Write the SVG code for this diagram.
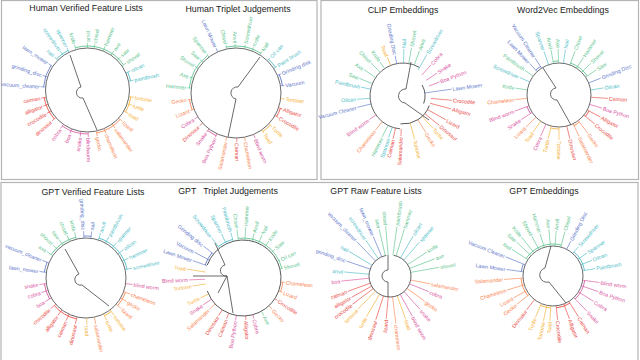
<svg xmlns="http://www.w3.org/2000/svg" width="640" height="360" viewBox="0 0 640 360">
<style>
text{font-family:"Liberation Sans",Arial,sans-serif;font-size:5.3px;stroke:none;dominant-baseline:central}
.ttl{font-size:8.8px;fill:#222;text-anchor:middle;dominant-baseline:auto}
.l{text-anchor:end}
path,circle{fill:none}
.lf path{stroke-width:.6}
.ring,.root{stroke:#444;stroke-width:.8;fill:none}
.arc{stroke-width:.8;fill:none}
.frame{fill:none;stroke:#b4b4b4;stroke-width:1.2}
.g{stroke:#5cc48e;fill:#5cc48e}
.t{stroke:#4cbcc6;fill:#4cbcc6}
.b{stroke:#5d75c9;fill:#5d75c9}
.y{stroke:#f5b034;fill:#f5b034}
.o{stroke:#f8844f;fill:#f8844f}
.r{stroke:#e9473f;fill:#e9473f}
.p{stroke:#d8529e;fill:#d8529e}
circle.arc{fill:none}
</style>
<rect class="frame" x="1.5" y="0.5" width="315.5" height="179"/>
<rect class="frame" x="321" y="0.5" width="317.5" height="179"/>
<rect class="frame" x="1" y="182.5" width="637" height="180"/>
<g id="titles">
<text class="ttl" x="86" y="10.5">Human Verified Feature Lists</text>
<text class="ttl" x="238" y="12">Human Triplet Judgements</text>
<text class="ttl" x="403" y="13">CLIP Embeddings</text>
<text class="ttl" x="563" y="13">Word2Vec Embeddings</text>
<text class="ttl" x="93" y="195">GPT Verified Feature Lists</text>
<text class="ttl" x="228" y="194" xml:space="preserve">GPT   Triplet Judgements</text>
<text class="ttl" x="376" y="194">GPT Raw Feature Lists</text>
<text class="ttl" x="544" y="194">GPT Embeddings</text>
</g>

<g id="human-verified" transform="translate(87.5,90)">
<g class="connectors"><circle class="ring" r="42"/><path class="root" d="M-17.5,-35 L-6.5,-3 A5.5,5.5 0 0 0 -4.5,8 L9.5,40"/>
<circle class="arc b" r="44" pathLength="360" stroke-dasharray="30 330" transform="rotate(184)"/>
<circle class="arc t" r="44" pathLength="360" stroke-dasharray="19 341" transform="rotate(225)"/>
<circle class="arc g" r="44" pathLength="360" stroke-dasharray="71 289" transform="rotate(254)"/>
<circle class="arc t" r="44" pathLength="360" stroke-dasharray="12 348" transform="rotate(336)"/>
<circle class="arc y" r="44" pathLength="360" stroke-dasharray="21 339" transform="rotate(9)"/>
<circle class="arc o" r="44" pathLength="360" stroke-dasharray="36 324" transform="rotate(42)"/>
<circle class="arc p" r="44" pathLength="360" stroke-dasharray="36 324" transform="rotate(89)"/>
<circle class="arc r" r="44" pathLength="360" stroke-dasharray="31 329" transform="rotate(139)"/>
</g>
<g class="lf">
<g class="b" transform="rotate(184)"><path d="M42 0H47"/><text class="l" transform="rotate(180)" x="-48">vacuum_cleaner</text></g>
<g class="b" transform="rotate(198)"><path d="M42 0H47"/><text class="l" transform="rotate(180)" x="-48">grinding_disc</text></g>
<g class="b" transform="rotate(214)"><path d="M42 0H47"/><text class="l" transform="rotate(180)" x="-48">lawn_mower</text></g>
<g class="t" transform="rotate(225)"><path d="M42 0H47"/><text class="l" transform="rotate(180)" x="-48">nail</text></g>
<g class="t" transform="rotate(235)"><path d="M42 0H47"/><text class="l" transform="rotate(180)" x="-48">screwdriver</text></g>
<g class="t" transform="rotate(244)"><path d="M42 0H47"/><text class="l" transform="rotate(180)" x="-48">spanner</text></g>
<g class="g" transform="rotate(254)"><path d="M42 0H47"/><text class="l" transform="rotate(180)" x="-48">knife</text></g>
<g class="g" transform="rotate(270)"><path d="M42 0H47"/><text x="48">anvil</text></g>
<g class="g" transform="rotate(279)"><path d="M42 0H47"/><text x="48">chisel</text></g>
<g class="g" transform="rotate(292)"><path d="M42 0H47"/><text x="48">hammer</text></g>
<g class="g" transform="rotate(304)"><path d="M42 0H47"/><text x="48">axe</text></g>
<g class="g" transform="rotate(315)"><path d="M42 0H47"/><text x="48">saw</text></g>
<g class="g" transform="rotate(325)"><path d="M42 0H47"/><text x="48">shovel</text></g>
<g class="t" transform="rotate(336)"><path d="M42 0H47"/><text x="48">oilcan</text></g>
<g class="t" transform="rotate(348)"><path d="M42 0H47"/><text x="48">paintbrush</text></g>
<g class="y" transform="rotate(9)"><path d="M42 0H47"/><text x="48">tortoise</text></g>
<g class="y" transform="rotate(19)"><path d="M42 0H47"/><text x="48">turtle</text></g>
<g class="y" transform="rotate(30)"><path d="M42 0H47"/><text x="48">toad</text></g>
<g class="o" transform="rotate(42)"><path d="M42 0H47"/><text x="48">lizard</text></g>
<g class="o" transform="rotate(54)"><path d="M42 0H47"/><text x="48">salamander</text></g>
<g class="o" transform="rotate(67)"><path d="M42 0H47"/><text x="48">chameleon</text></g>
<g class="o" transform="rotate(78)"><path d="M42 0H47"/><text x="48">gecko</text></g>
<g class="p" transform="rotate(89)"><path d="M42 0H47"/><text x="48">blindworm</text></g>
<g class="p" transform="rotate(99)"><path d="M42 0H47"/><text class="l" transform="rotate(180)" x="-48">snake</text></g>
<g class="p" transform="rotate(112)"><path d="M42 0H47"/><text class="l" transform="rotate(180)" x="-48">boa</text></g>
<g class="p" transform="rotate(125)"><path d="M42 0H47"/><text class="l" transform="rotate(180)" x="-48">cobra</text></g>
<g class="r" transform="rotate(139)"><path d="M42 0H47"/><text class="l" transform="rotate(180)" x="-48">dinosaur</text></g>
<g class="r" transform="rotate(150)"><path d="M42 0H47"/><text class="l" transform="rotate(180)" x="-48">crocodile</text></g>
<g class="r" transform="rotate(160)"><path d="M42 0H47"/><text class="l" transform="rotate(180)" x="-48">alligator</text></g>
<g class="r" transform="rotate(170)"><path d="M42 0H47"/><text class="l" transform="rotate(180)" x="-48">caiman</text></g>
</g></g>

<g id="human-triplet" transform="translate(236,93)">
<g class="connectors"><circle class="ring" r="45"/><path class="root" d="M24,-36 L2,-6 A6,6 0 0 0 0,6 L-8,44"/>
<circle class="arc g" r="47" pathLength="360" stroke-dasharray="47 313" transform="rotate(186)"/>
<circle class="arc g" r="47" pathLength="360" stroke-dasharray="44 316" transform="rotate(258)"/>
<circle class="arc t" r="47" pathLength="360" stroke-dasharray="13 347" transform="rotate(314)"/>
<circle class="arc b" r="47" pathLength="360" stroke-dasharray="14 346" transform="rotate(337)"/>
<circle class="arc r" r="47" pathLength="360" stroke-dasharray="11 349" transform="rotate(19)"/>
<circle class="arc y" r="47" pathLength="360" stroke-dasharray="12 348" transform="rotate(43)"/>
<circle class="arc p" r="47" pathLength="360" stroke-dasharray="12 348" transform="rotate(115)"/>
<circle class="arc o" r="47" pathLength="360" stroke-dasharray="13 347" transform="rotate(159)"/>
</g>
<g class="lf">
<g class="g" transform="rotate(186)"><path d="M45 0H49"/><text class="l" transform="rotate(180)" x="-50">Hammer</text></g>
<g class="g" transform="rotate(199)"><path d="M45 0H49"/><text class="l" transform="rotate(180)" x="-50">Axe</text></g>
<g class="g" transform="rotate(213)"><path d="M45 0H49"/><text class="l" transform="rotate(180)" x="-50">Shovel</text></g>
<g class="g" transform="rotate(223)"><path d="M45 0H49"/><text class="l" transform="rotate(180)" x="-50">Saw</text></g>
<g class="g" transform="rotate(233)"><path d="M45 0H49"/><text class="l" transform="rotate(180)" x="-50">Spanner</text></g>
<g class="b" transform="rotate(246)"><path d="M45 0H49"/><text class="l" transform="rotate(180)" x="-50">Lawn Mower</text></g>
<g class="g" transform="rotate(258)"><path d="M45 0H49"/><text class="l" transform="rotate(180)" x="-50">Chisel</text></g>
<g class="g" transform="rotate(269)"><path d="M45 0H49"/><text class="l" transform="rotate(180)" x="-50">Anvil</text></g>
<g class="g" transform="rotate(281)"><path d="M45 0H49"/><text x="50">Screwdriver</text></g>
<g class="g" transform="rotate(291)"><path d="M45 0H49"/><text x="50">Knife</text></g>
<g class="g" transform="rotate(302)"><path d="M45 0H49"/><text x="50">Nail</text></g>
<g class="t" transform="rotate(314)"><path d="M45 0H49"/><text x="50">Oil can</text></g>
<g class="t" transform="rotate(327)"><path d="M45 0H49"/><text x="50">Paint brush</text></g>
<g class="b" transform="rotate(337)"><path d="M45 0H49"/><text x="50">Grinding disk</text></g>
<g class="b" transform="rotate(351)"><path d="M45 0H49"/><text x="50">Vacuum</text></g>
<g class="y" transform="rotate(7)"><path d="M45 0H49"/><text x="50">Tortoise</text></g>
<g class="r" transform="rotate(19)"><path d="M45 0H49"/><text x="50">Alligator</text></g>
<g class="r" transform="rotate(30)"><path d="M45 0H49"/><text x="50">Crocodile</text></g>
<g class="y" transform="rotate(43)"><path d="M45 0H49"/><text x="50">Turtle</text></g>
<g class="y" transform="rotate(55)"><path d="M45 0H49"/><text x="50">Toad</text></g>
<g class="p" transform="rotate(67)"><path d="M45 0H49"/><text x="50">Blind worm</text></g>
<g class="o" transform="rotate(79)"><path d="M45 0H49"/><text x="50">Chameleon</text></g>
<g class="r" transform="rotate(89)"><path d="M45 0H49"/><text x="50">Caiman</text></g>
<g class="o" transform="rotate(102)"><path d="M45 0H49"/><text class="l" transform="rotate(180)" x="-50">Salamander</text></g>
<g class="p" transform="rotate(115)"><path d="M45 0H49"/><text class="l" transform="rotate(180)" x="-50">Boa Python</text></g>
<g class="p" transform="rotate(127)"><path d="M45 0H49"/><text class="l" transform="rotate(180)" x="-50">Snake</text></g>
<g class="r" transform="rotate(138)"><path d="M45 0H49"/><text class="l" transform="rotate(180)" x="-50">Dinosaur</text></g>
<g class="p" transform="rotate(148)"><path d="M45 0H49"/><text class="l" transform="rotate(180)" x="-50">Cobra</text></g>
<g class="o" transform="rotate(159)"><path d="M45 0H49"/><text class="l" transform="rotate(180)" x="-50">Lizard</text></g>
<g class="o" transform="rotate(172)"><path d="M45 0H49"/><text class="l" transform="rotate(180)" x="-50">Gecko</text></g>
</g></g>

<g id="clip" transform="translate(403,96)">
<g class="connectors">
<circle class="ring" r="33" pathLength="360" stroke-dasharray="205 155" transform="rotate(95)"/>
<circle class="ring" r="22" pathLength="360" stroke-dasharray="50 310" transform="rotate(330)"/>
<circle class="ring" r="28" pathLength="360" stroke-dasharray="75 285" transform="rotate(20)"/>
<path class="root" d="M8,-34 L3,-7 A7,7 0 0 0 2,7 L26,24"/></g>
<g class="lf">
<g class="b" transform="rotate(352)"><path d="M22 0H49"/><text x="50">Lawn Mower</text></g>
<g class="r" transform="rotate(5)"><path d="M28 0H49"/><text x="50">Crocodile</text></g>
<g class="r" transform="rotate(15)"><path d="M28 0H50"/><text x="51">Alligator</text></g>
<g class="r" transform="rotate(29)"><path d="M28 0H49"/><text x="50">Lizard</text></g>
<g class="r" transform="rotate(39)"><path d="M28 0H47"/><text x="48">Dinosaur</text></g>
<g class="y" transform="rotate(47)"><path d="M28 0H44"/><text x="45">Turtle</text></g>
<g class="o" transform="rotate(58)"><path d="M28 0H43"/><text x="44">Gecko</text></g>
<g class="y" transform="rotate(75)"><path d="M28 0H45"/><text x="46">Tortoise</text></g>
<g class="r" transform="rotate(93)"><path d="M33 0H40"/><text class="l" transform="rotate(180)" x="-41">Salamander</text></g>
<g class="r" transform="rotate(103)"><path d="M33 0H44"/><text class="l" transform="rotate(180)" x="-45">Caiman</text></g>
<g class="t" transform="rotate(109)"><path d="M33 0H44"/><text class="l" transform="rotate(180)" x="-45">Spanner</text></g>
<g class="g" transform="rotate(117)"><path d="M33 0H46"/><text class="l" transform="rotate(180)" x="-47">Hammer</text></g>
<g class="o" transform="rotate(129)"><path d="M33 0H44"/><text class="l" transform="rotate(180)" x="-45">Chameleon</text></g>
<g class="p" transform="rotate(145)"><path d="M33 0H41"/><text class="l" transform="rotate(180)" x="-42">Blind worm</text></g>
<g class="b" transform="rotate(166)"><path d="M33 0H47"/><text class="l" transform="rotate(180)" x="-48">Vacuum Cleaner</text></g>
<g class="t" transform="rotate(176)"><path d="M33 0H46"/><text class="l" transform="rotate(180)" x="-47">Oilcan</text></g>
<g class="t" transform="rotate(192)"><path d="M33 0H43"/><text class="l" transform="rotate(180)" x="-44">Paintbrush</text></g>
<g class="g" transform="rotate(202)"><path d="M33 0H47"/><text class="l" transform="rotate(180)" x="-48">Saw</text></g>
<g class="g" transform="rotate(214)"><path d="M33 0H47"/><text class="l" transform="rotate(180)" x="-48">Axe</text></g>
<g class="g" transform="rotate(226)"><path d="M33 0H46"/><text class="l" transform="rotate(180)" x="-47">Chisel</text></g>
<g class="g" transform="rotate(236)"><path d="M33 0H41"/><text class="l" transform="rotate(180)" x="-42">Knife</text></g>
<g class="y" transform="rotate(248)"><path d="M33 0H42"/><text class="l" transform="rotate(180)" x="-43">Toad</text></g>
<g class="b" transform="rotate(259)"><path d="M33 0H41"/><text class="l" transform="rotate(180)" x="-42">Grinding Disc</text></g>
<g class="t" transform="rotate(271)"><path d="M33 0H47"/><text x="48">Nail</text></g>
<g class="g" transform="rotate(280)"><path d="M33 0H49"/><text x="50">Shovel</text></g>
<g class="g" transform="rotate(290)"><path d="M33 0H48"/><text x="49">Anvil</text></g>
<g class="t" transform="rotate(300)"><path d="M30 0H48"/><text x="49">Screwdriver</text></g>
<g class="p" transform="rotate(312)"><path d="M28 0H42"/><text x="43">Cobra</text></g>
<g class="p" transform="rotate(326)"><path d="M28 0H41"/><text x="42">Snake</text></g>
<g class="p" transform="rotate(339)"><path d="M28 0H39"/><text x="40">Boa Python</text></g>
</g></g>

<g id="word2vec" transform="translate(559,95)">
<g class="connectors"><circle class="ring" r="32"/><path class="root" d="M-16,-27 L-3,-7 A6,6 0 0 0 -2,5 L12,30"/>
<circle class="arc r" r="34" pathLength="360" stroke-dasharray="11 349" transform="rotate(28)"/>
<circle class="arc o" r="34" pathLength="360" stroke-dasharray="11 349" transform="rotate(53)"/>
<circle class="arc y" r="34" pathLength="360" stroke-dasharray="14 346" transform="rotate(90)"/>
<circle class="arc p" r="34" pathLength="360" stroke-dasharray="13 347" transform="rotate(147)"/>
<circle class="arc b" r="34" pathLength="360" stroke-dasharray="10 350" transform="rotate(227)"/>
<circle class="arc g" r="34" pathLength="360" stroke-dasharray="9 351" transform="rotate(260)"/>
<circle class="arc g" r="34" pathLength="360" stroke-dasharray="36 324" transform="rotate(290)"/>
</g>
<g class="lf">
<g class="r" transform="rotate(4)"><path d="M32 0H49"/><text x="50">Caiman</text></g>
<g class="p" transform="rotate(17)"><path d="M32 0H45"/><text x="46">Boa Python</text></g>
<g class="r" transform="rotate(28)"><path d="M32 0H47"/><text x="48">Alligator</text></g>
<g class="r" transform="rotate(39)"><path d="M32 0H46"/><text x="47">Crocodile</text></g>
<g class="o" transform="rotate(53)"><path d="M32 0H48"/><text x="49">Gecko</text></g>
<g class="o" transform="rotate(64)"><path d="M32 0H46"/><text x="47">Salamander</text></g>
<g class="r" transform="rotate(76)"><path d="M32 0H45"/><text x="46">Dinosaur</text></g>
<g class="y" transform="rotate(90)"><path d="M32 0H45"/><text x="46">Tortoise</text></g>
<g class="y" transform="rotate(104)"><path d="M32 0H45"/><text class="l" transform="rotate(180)" x="-46">Turtle</text></g>
<g class="p" transform="rotate(114)"><path d="M32 0H45"/><text class="l" transform="rotate(180)" x="-46">Cobra</text></g>
<g class="y" transform="rotate(125)"><path d="M32 0H45"/><text class="l" transform="rotate(180)" x="-46">Toad</text></g>
<g class="o" transform="rotate(136)"><path d="M32 0H46"/><text class="l" transform="rotate(180)" x="-47">Lizard</text></g>
<g class="p" transform="rotate(147)"><path d="M32 0H45"/><text class="l" transform="rotate(180)" x="-46">Snake</text></g>
<g class="p" transform="rotate(160)"><path d="M32 0H47"/><text class="l" transform="rotate(180)" x="-48">Blind worm</text></g>
<g class="o" transform="rotate(174)"><path d="M32 0H44"/><text class="l" transform="rotate(180)" x="-45">Chameleon</text></g>
<g class="g" transform="rotate(189)"><path d="M32 0H44"/><text class="l" transform="rotate(180)" x="-45">Knife</text></g>
<g class="t" transform="rotate(204)"><path d="M32 0H43"/><text class="l" transform="rotate(180)" x="-44">Screwdriver</text></g>
<g class="g" transform="rotate(216)"><path d="M32 0H42"/><text class="l" transform="rotate(180)" x="-43">Paintbrush</text></g>
<g class="b" transform="rotate(227)"><path d="M32 0H43"/><text class="l" transform="rotate(180)" x="-44">Lawn Mower</text></g>
<g class="b" transform="rotate(237)"><path d="M32 0H44"/><text class="l" transform="rotate(180)" x="-45">Vacuum Cleaner</text></g>
<g class="t" transform="rotate(251)"><path d="M32 0H46"/><text class="l" transform="rotate(180)" x="-47">Spanner</text></g>
<g class="g" transform="rotate(260)"><path d="M32 0H46"/><text class="l" transform="rotate(180)" x="-47">Anvil</text></g>
<g class="g" transform="rotate(269)"><path d="M32 0H46"/><text class="l" transform="rotate(180)" x="-47">Axe</text></g>
<g class="t" transform="rotate(278)"><path d="M32 0H46"/><text x="47">Nail</text></g>
<g class="g" transform="rotate(290)"><path d="M32 0H47"/><text x="48">Chisel</text></g>
<g class="g" transform="rotate(303)"><path d="M32 0H45"/><text x="46">Hammer</text></g>
<g class="g" transform="rotate(315)"><path d="M32 0H45"/><text x="46">Shovel</text></g>
<g class="g" transform="rotate(326)"><path d="M32 0H45"/><text x="46">Saw</text></g>
<g class="b" transform="rotate(338)"><path d="M32 0H45"/><text x="46">Grinding Disc</text></g>
<g class="t" transform="rotate(351)"><path d="M32 0H45"/><text x="46">Oilcan</text></g>
</g></g>

<g id="gpt-verified" transform="translate(86,278)">
<g class="connectors"><circle class="ring" r="40"/><path class="root" d="M-21,-29 L-7,-4 A5.5,5.5 0 0 0 -4,7 L23,28"/>
<circle class="arc o" r="42" pathLength="360" stroke-dasharray="21 339" transform="rotate(20)"/>
<circle class="arc y" r="42" pathLength="360" stroke-dasharray="11 349" transform="rotate(53)"/>
<circle class="arc r" r="42" pathLength="360" stroke-dasharray="36 324" transform="rotate(103)"/>
<circle class="arc p" r="42" pathLength="360" stroke-dasharray="22 338" transform="rotate(150)"/>
<circle class="arc b" r="42" pathLength="360" stroke-dasharray="14 346" transform="rotate(188)"/>
<circle class="arc g" r="42" pathLength="360" stroke-dasharray="42 318" transform="rotate(214)"/>
<circle class="arc b" r="42" pathLength="360" stroke-dasharray="10 350" transform="rotate(267)"/>
<circle class="arc t" r="42" pathLength="360" stroke-dasharray="60 300" transform="rotate(288)"/>
</g>
<g class="lf">
<g class="p" transform="rotate(8)"><path d="M40 0H47"/><text x="48">blind worm</text></g>
<g class="o" transform="rotate(20)"><path d="M40 0H47"/><text x="48">chameleon</text></g>
<g class="o" transform="rotate(30)"><path d="M40 0H47"/><text x="48">gecko</text></g>
<g class="o" transform="rotate(41)"><path d="M40 0H47"/><text x="48">lizard</text></g>
<g class="y" transform="rotate(53)"><path d="M40 0H47"/><text x="48">tortoise</text></g>
<g class="y" transform="rotate(64)"><path d="M40 0H47"/><text x="48">turtle</text></g>
<g class="o" transform="rotate(78)"><path d="M40 0H47"/><text x="48">salamander</text></g>
<g class="y" transform="rotate(89)"><path d="M40 0H47"/><text x="48">toad</text></g>
<g class="r" transform="rotate(103)"><path d="M40 0H47"/><text class="l" transform="rotate(180)" x="-48">dinosaur</text></g>
<g class="r" transform="rotate(115)"><path d="M40 0H47"/><text class="l" transform="rotate(180)" x="-48">caiman</text></g>
<g class="r" transform="rotate(127)"><path d="M40 0H47"/><text class="l" transform="rotate(180)" x="-48">alligator</text></g>
<g class="r" transform="rotate(139)"><path d="M40 0H47"/><text class="l" transform="rotate(180)" x="-48">crocodile</text></g>
<g class="p" transform="rotate(150)"><path d="M40 0H47"/><text class="l" transform="rotate(180)" x="-48">boa</text></g>
<g class="p" transform="rotate(162)"><path d="M40 0H47"/><text class="l" transform="rotate(180)" x="-48">cobra</text></g>
<g class="p" transform="rotate(172)"><path d="M40 0H47"/><text class="l" transform="rotate(180)" x="-48">snake</text></g>
<g class="b" transform="rotate(188)"><path d="M40 0H47"/><text class="l" transform="rotate(180)" x="-48">lawn_mower</text></g>
<g class="b" transform="rotate(202)"><path d="M40 0H47"/><text class="l" transform="rotate(180)" x="-48">vacuum_cleaner</text></g>
<g class="g" transform="rotate(214)"><path d="M40 0H47"/><text class="l" transform="rotate(180)" x="-48">axe</text></g>
<g class="g" transform="rotate(225)"><path d="M40 0H47"/><text class="l" transform="rotate(180)" x="-48">shovel</text></g>
<g class="g" transform="rotate(235)"><path d="M40 0H47"/><text class="l" transform="rotate(180)" x="-48">saw</text></g>
<g class="g" transform="rotate(246)"><path d="M40 0H47"/><text class="l" transform="rotate(180)" x="-48">chisel</text></g>
<g class="g" transform="rotate(256)"><path d="M40 0H47"/><text class="l" transform="rotate(180)" x="-48">knife</text></g>
<g class="b" transform="rotate(267)"><path d="M40 0H47"/><text class="l" transform="rotate(180)" x="-48">grinding_disc</text></g>
<g class="b" transform="rotate(277)"><path d="M40 0H47"/><text x="48">nail</text></g>
<g class="t" transform="rotate(288)"><path d="M40 0H47"/><text x="48">anvil</text></g>
<g class="t" transform="rotate(299)"><path d="M40 0H47"/><text x="48">paintbrush</text></g>
<g class="t" transform="rotate(311)"><path d="M40 0H47"/><text x="48">spanner</text></g>
<g class="t" transform="rotate(323)"><path d="M40 0H47"/><text x="48">oilcan</text></g>
<g class="t" transform="rotate(335)"><path d="M40 0H47"/><text x="48">hammer</text></g>
<g class="t" transform="rotate(348)"><path d="M40 0H47"/><text x="48">screwdriver</text></g>
</g></g>

<g id="gpt-triplet" transform="translate(243,278)">
<g class="connectors"><circle class="ring" r="38" pathLength="360" stroke-dasharray="320 40" transform="rotate(200)"/><path class="root" d="M-28,-35 L-18,-13 A5,5 0 0 0 -16,-2 L-25,15 M-16,-2 L-50,-2 M-16,-2 L-10,35"/>
<circle class="arc o" r="40" pathLength="360" stroke-dasharray="14 346" transform="rotate(6)"/>
<circle class="arc b" r="40" pathLength="360" stroke-dasharray="20 340" transform="rotate(199)"/>
<circle class="arc t" r="40" pathLength="360" stroke-dasharray="23 337" transform="rotate(232)"/>
<circle class="arc g" r="40" pathLength="360" stroke-dasharray="83 277" transform="rotate(263)"/>
</g>
<g class="lf">
<g class="o" transform="rotate(6)"><path d="M38 0H42"/><text x="43">Chameleon</text></g>
<g class="o" transform="rotate(20)"><path d="M38 0H42"/><text x="43">Lizard</text></g>
<g class="r" transform="rotate(33)"><path d="M38 0H41"/><text x="42">Crocodile</text></g>
<g class="o" transform="rotate(47)"><path d="M38 0H43"/><text x="44">Gecko</text></g>
<g class="g" transform="rotate(61)"><path d="M38 0H43"/><text x="44">Axe</text></g>
<g class="p" transform="rotate(75)"><path d="M38 0H42"/><text x="43">Cobra</text></g>
<g class="r" transform="rotate(86)"><path d="M38 0H42"/><text x="43">Alligator</text></g>
<g class="p" transform="rotate(100)"><path d="M38 0H43"/><text class="l" transform="rotate(180)" x="-44">Boa Python</text></g>
<g class="r" transform="rotate(112)"><path d="M38 0H44"/><text class="l" transform="rotate(180)" x="-45">Caiman</text></g>
<g class="r" transform="rotate(123)"><path d="M38 0H45"/><text class="l" transform="rotate(180)" x="-46">Dinosaur</text></g>
<g class="o" transform="rotate(137)"><path d="M38 0H46"/><text class="l" transform="rotate(180)" x="-47">Salamander</text></g>
<g class="p" transform="rotate(146)"><path d="M38 0H48"/><text class="l" transform="rotate(180)" x="-49">Snake</text></g>
<g class="y" transform="rotate(155)"><path d="M38 0H47"/><text class="l" transform="rotate(180)" x="-48">Turtle</text></g>
<g class="y" transform="rotate(171)"><path d="M38 0H51"/><text class="l" transform="rotate(180)" x="-52">Tortoise</text></g>
<g class="p" transform="rotate(178)"><path d="M38 0H54"/><text class="l" transform="rotate(180)" x="-55">Blind worm</text></g>
<g class="y" transform="rotate(189)"><path d="M38 0H57"/><text class="l" transform="rotate(180)" x="-58">Toad</text></g>
<g class="b" transform="rotate(199)"><path d="M38 0H53"/><text class="l" transform="rotate(180)" x="-54">Lawn Mower</text></g>
<g class="b" transform="rotate(208)"><path d="M38 0H55"/><text class="l" transform="rotate(180)" x="-56">Vacuum</text></g>
<g class="b" transform="rotate(219)"><path d="M38 0H51"/><text class="l" transform="rotate(180)" x="-52">Grinding disc</text></g>
<g class="t" transform="rotate(232)"><path d="M38 0H51"/><text class="l" transform="rotate(180)" x="-52">Screwdriver</text></g>
<g class="t" transform="rotate(244)"><path d="M38 0H49"/><text class="l" transform="rotate(180)" x="-50">Spanner</text></g>
<g class="t" transform="rotate(255)"><path d="M38 0H47"/><text class="l" transform="rotate(180)" x="-48">Paintbrush</text></g>
<g class="g" transform="rotate(263)"><path d="M38 0H49"/><text class="l" transform="rotate(180)" x="-50">Chisel</text></g>
<g class="g" transform="rotate(273)"><path d="M38 0H51"/><text x="52">Hammer</text></g>
<g class="g" transform="rotate(284)"><path d="M38 0H46"/><text x="47">Anvil</text></g>
<g class="g" transform="rotate(294)"><path d="M38 0H47"/><text x="48">Nail</text></g>
<g class="g" transform="rotate(305)"><path d="M38 0H45"/><text x="46">Knife</text></g>
<g class="g" transform="rotate(318)"><path d="M38 0H43"/><text x="44">Saw</text></g>
<g class="g" transform="rotate(334)"><path d="M38 0H41"/><text x="42">Oil can</text></g>
<g class="g" transform="rotate(346)"><path d="M38 0H41"/><text x="42">Shovel</text></g>
</g></g>

<g id="gpt-raw" transform="translate(390,276)">
<g class="connectors"><circle class="ring" r="21" pathLength="360" stroke-dasharray="340 20" transform="rotate(280)"/><path class="root" d="M-2,-21 L-2,-6 A6,6 0 0 0 -2,6 L-2,21"/></g>
<g class="lf">
<g class="o" transform="rotate(11)"><path d="M21 0H41"/><text x="42">salamander</text></g>
<g class="p" transform="rotate(22)"><path d="M21 0H42"/><text x="43">cobra</text></g>
<g class="o" transform="rotate(36)"><path d="M21 0H43"/><text x="44">gecko</text></g>
<g class="p" transform="rotate(48)"><path d="M21 0H45"/><text x="46">snake</text></g>
<g class="p" transform="rotate(61)"><path d="M21 0H46"/><text x="47">blind worm</text></g>
<g class="y" transform="rotate(70)"><path d="M21 0H46"/><text x="47">toad</text></g>
<g class="o" transform="rotate(83)"><path d="M21 0H48"/><text x="49">chameleon</text></g>
<g class="r" transform="rotate(95)"><path d="M21 0H43"/><text class="l" transform="rotate(180)" x="-44">lizard</text></g>
<g class="r" transform="rotate(108)"><path d="M21 0H46"/><text class="l" transform="rotate(180)" x="-47">dinosaur</text></g>
<g class="y" transform="rotate(120)"><path d="M21 0H47"/><text class="l" transform="rotate(180)" x="-48">turtle</text></g>
<g class="y" transform="rotate(134)"><path d="M21 0H46"/><text class="l" transform="rotate(180)" x="-47">tortoise</text></g>
<g class="r" transform="rotate(143)"><path d="M21 0H47"/><text class="l" transform="rotate(180)" x="-48">crocodile</text></g>
<g class="r" transform="rotate(151)"><path d="M21 0H44"/><text class="l" transform="rotate(180)" x="-45">alligator</text></g>
<g class="r" transform="rotate(160)"><path d="M21 0H45"/><text class="l" transform="rotate(180)" x="-46">caiman</text></g>
<g class="p" transform="rotate(174)"><path d="M21 0H49"/><text class="l" transform="rotate(180)" x="-50">boa</text></g>
<g class="t" transform="rotate(185)"><path d="M21 0H46"/><text class="l" transform="rotate(180)" x="-47">anvil</text></g>
<g class="b" transform="rotate(199)"><path d="M21 0H46"/><text class="l" transform="rotate(180)" x="-47">grinding_disc</text></g>
<g class="t" transform="rotate(211)"><path d="M21 0H48"/><text class="l" transform="rotate(180)" x="-49">nail</text></g>
<g class="b" transform="rotate(226)"><path d="M21 0H48"/><text class="l" transform="rotate(180)" x="-49">vacuum_cleaner</text></g>
<g class="t" transform="rotate(236)"><path d="M21 0H43"/><text class="l" transform="rotate(180)" x="-44">screwdriver</text></g>
<g class="b" transform="rotate(247)"><path d="M21 0H43"/><text class="l" transform="rotate(180)" x="-44">lawn_mower</text></g>
<g class="g" transform="rotate(257)"><path d="M21 0H48"/><text class="l" transform="rotate(180)" x="-49">saw</text></g>
<g class="g" transform="rotate(265)"><path d="M21 0H50"/><text class="l" transform="rotate(180)" x="-51">chisel</text></g>
<g class="g" transform="rotate(278)"><path d="M21 0H50"/><text x="51">paintbrush</text></g>
<g class="g" transform="rotate(287)"><path d="M21 0H49"/><text x="50">hammer</text></g>
<g class="t" transform="rotate(300)"><path d="M21 0H46"/><text x="47">oilcan</text></g>
<g class="t" transform="rotate(311)"><path d="M21 0H45"/><text x="46">spanner</text></g>
<g class="g" transform="rotate(327)"><path d="M21 0H44"/><text x="45">knife</text></g>
<g class="g" transform="rotate(339)"><path d="M21 0H48"/><text x="49">axe</text></g>
<g class="g" transform="rotate(350)"><path d="M21 0H50"/><text x="51">shovel</text></g>
</g></g>

<g id="gpt-embeddings" transform="translate(553,276)">
<g class="connectors"><circle class="ring" r="30"/><path class="root" d="M-2,-30 L-8,-8 A6,6 0 0 0 -4,6 L13,27"/>
<circle class="arc p" r="32" pathLength="360" stroke-dasharray="38 322" transform="rotate(8)"/>
<circle class="arc r" r="32" pathLength="360" stroke-dasharray="26 334" transform="rotate(58)"/>
<circle class="arc y" r="32" pathLength="360" stroke-dasharray="19 341" transform="rotate(94)"/>
<circle class="arc o" r="32" pathLength="360" stroke-dasharray="34 326" transform="rotate(142)"/>
<circle class="arc b" r="32" pathLength="360" stroke-dasharray="14 346" transform="rotate(188)"/>
<circle class="arc g" r="32" pathLength="360" stroke-dasharray="72 288" transform="rotate(213)"/>
<circle class="arc t" r="32" pathLength="360" stroke-dasharray="39 321" transform="rotate(311)"/>
</g>
<g class="lf">
<g class="p" transform="rotate(8)"><path d="M30 0H47"/><text x="48">Blind worm</text></g>
<g class="p" transform="rotate(19)"><path d="M30 0H48"/><text x="49">Boa Python</text></g>
<g class="p" transform="rotate(32)"><path d="M30 0H48"/><text x="49">Cobra</text></g>
<g class="p" transform="rotate(46)"><path d="M30 0H49"/><text x="50">Snake</text></g>
<g class="r" transform="rotate(58)"><path d="M30 0H48"/><text x="49">Caiman</text></g>
<g class="r" transform="rotate(69)"><path d="M30 0H46"/><text x="47">Alligator</text></g>
<g class="r" transform="rotate(84)"><path d="M30 0H44"/><text x="45">Crocodile</text></g>
<g class="y" transform="rotate(94)"><path d="M30 0H45"/><text class="l" transform="rotate(180)" x="-46">Toad</text></g>
<g class="y" transform="rotate(102)"><path d="M30 0H46"/><text class="l" transform="rotate(180)" x="-47">Tortoise</text></g>
<g class="y" transform="rotate(113)"><path d="M30 0H45"/><text class="l" transform="rotate(180)" x="-46">Turtle</text></g>
<g class="r" transform="rotate(128)"><path d="M30 0H43"/><text class="l" transform="rotate(180)" x="-44">Dinosaur</text></g>
<g class="o" transform="rotate(142)"><path d="M30 0H46"/><text class="l" transform="rotate(180)" x="-47">Gecko</text></g>
<g class="o" transform="rotate(151)"><path d="M30 0H45"/><text class="l" transform="rotate(180)" x="-46">Lizard</text></g>
<g class="o" transform="rotate(163)"><path d="M30 0H48"/><text class="l" transform="rotate(180)" x="-49">Chameleon</text></g>
<g class="o" transform="rotate(176)"><path d="M30 0H49"/><text class="l" transform="rotate(180)" x="-50">Salamander</text></g>
<g class="b" transform="rotate(188)"><path d="M30 0H47"/><text class="l" transform="rotate(180)" x="-48">Lawn Mower</text></g>
<g class="b" transform="rotate(202)"><path d="M30 0H51"/><text class="l" transform="rotate(180)" x="-52">Vacuum Cleaner</text></g>
<g class="g" transform="rotate(213)"><path d="M30 0H49"/><text class="l" transform="rotate(180)" x="-50">Nail</text></g>
<g class="g" transform="rotate(223)"><path d="M30 0H50"/><text class="l" transform="rotate(180)" x="-51">Saw</text></g>
<g class="g" transform="rotate(231)"><path d="M30 0H50"/><text class="l" transform="rotate(180)" x="-51">Knife</text></g>
<g class="g" transform="rotate(242)"><path d="M30 0H45"/><text class="l" transform="rotate(180)" x="-46">Shovel</text></g>
<g class="g" transform="rotate(253)"><path d="M30 0H44"/><text class="l" transform="rotate(180)" x="-45">Hammer</text></g>
<g class="g" transform="rotate(265)"><path d="M30 0H47"/><text class="l" transform="rotate(180)" x="-48">Axe</text></g>
<g class="g" transform="rotate(274)"><path d="M30 0H45"/><text x="46">Anvil</text></g>
<g class="g" transform="rotate(285)"><path d="M30 0H46"/><text x="47">Chisel</text></g>
<g class="b" transform="rotate(297)"><path d="M30 0H39"/><text x="40">Grinding Disc</text></g>
<g class="t" transform="rotate(311)"><path d="M30 0H39"/><text x="40">Screwdriver</text></g>
<g class="t" transform="rotate(326)"><path d="M30 0H41"/><text x="42">Spanner</text></g>
<g class="t" transform="rotate(338)"><path d="M30 0H42"/><text x="43">Oilcan</text></g>
<g class="t" transform="rotate(350)"><path d="M30 0H43"/><text x="44">Paintbrush</text></g>
</g></g>
</svg>
